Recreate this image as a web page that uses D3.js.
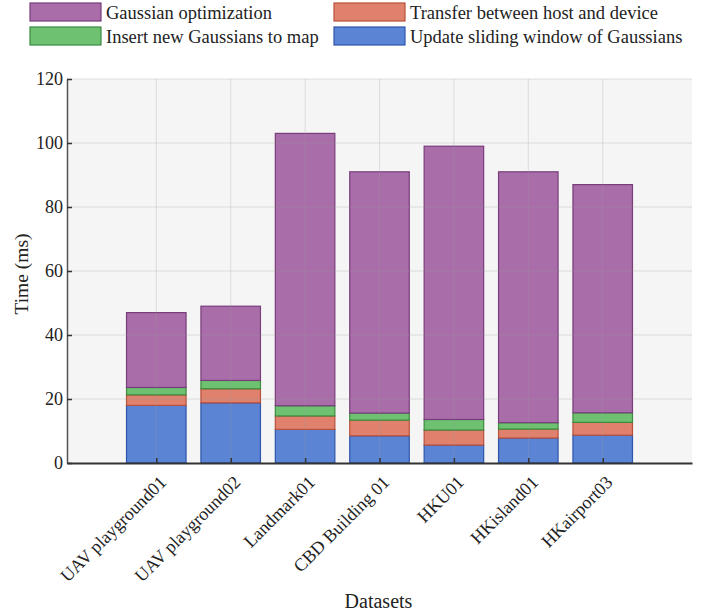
<!DOCTYPE html>
<html>
<head>
<meta charset="utf-8">
<script src="https://cdn.jsdelivr.net/npm/d3@7"></script>
<style>
  body { margin: 0; background: #fff; }
  svg text { font-family: "Liberation Serif", "DejaVu Serif", serif; fill: #222; }
</style>
</head>
<body>
<svg id="chart" width="710" height="616"></svg>
<script>
// データセット名
const datasets = ["UAV playground01", "UAV playground02", "Landmark01", "CBD Building 01", "HKU01", "HKisland01", "HKairport03"];

// 各処理の時間 (ms)
const updateWindow = [18.0, 18.8, 10.5, 8.5, 5.6, 7.8, 8.7];
const transfer = [3.3, 4.4, 4.2, 4.9, 4.7, 2.8, 4.0];
const insertNew = [2.3, 2.6, 3.2, 2.2, 3.3, 2.0, 3.0];
const optimization = [23.4, 23.2, 85.1, 75.4, 85.4, 78.4, 71.3];

const yTicks = [0, 20, 40, 60, 80, 100, 120];

// 系列の定義 (下から順に積む)
const series = [
  { key: "update", label: "Update sliding window of Gaussians", values: updateWindow, fill: "#5b84d5", stroke: "#2d55aa" },
  { key: "transfer", label: "Transfer between host and device", values: transfer, fill: "#e0816d", stroke: "#b9503b" },
  { key: "insert", label: "Insert new Gaussians to map", values: insertNew, fill: "#6dc170", stroke: "#3b8c3e" },
  { key: "opt", label: "Gaussian optimization", values: optimization, fill: "#a96daa", stroke: "#7a3d7c" }
];

const rows = datasets.map((name, i) => {
  const r = { name, i };
  series.forEach(s => { r[s.key] = s.values[i]; });
  return r;
});

const svg = d3.select("#chart");
const plotL = 67, plotR = 692, plotT = 79, plotB = 463;
const serif = '"Liberation Serif", "DejaVu Serif", serif';

// 位置スケール (matplotlib風のxlim)
const x = d3.scaleLinear().domain([-1.2, 7.2]).range([plotL, plotR]);
const y = d3.scaleLinear().domain([0, 120]).range([plotB, plotT]);
const barW = x(0.8) - x(0);

// 背景
svg.append("rect")
  .attr("x", plotL).attr("y", plotT)
  .attr("width", plotR - plotL).attr("height", plotB - plotT)
  .attr("fill", "#f5f5f5");

// 積み上げ
const stack = d3.stack().keys(series.map(s => s.key));
const stacked = stack(rows);

const barG = svg.append("g");
stacked.forEach((layer, li) => {
  const s = series[li];
  barG.append("g")
    .selectAll("rect")
    .data(layer)
    .enter()
    .append("rect")
    .attr("x", (d, i) => x(i) - barW / 2)
    .attr("y", d => y(d[1]))
    .attr("width", barW)
    .attr("height", d => y(d[0]) - y(d[1]))
    .attr("fill", s.fill)
    .attr("stroke", s.stroke)
    .attr("stroke-width", 1.2);
});

// グリッド (バーの上に薄く)
const grid = svg.append("g").attr("stroke", "#999").attr("stroke-opacity", 0.28).attr("stroke-width", 1);
grid.selectAll("line.h")
  .data(yTicks.filter(t => t > 0))
  .enter().append("line")
  .attr("x1", plotL).attr("x2", plotR)
  .attr("y1", d => y(d)).attr("y2", d => y(d));
grid.selectAll("line.v")
  .data(datasets.map((d, i) => i))
  .enter().append("line")
  .attr("x1", d => x(d)).attr("x2", d => x(d))
  .attr("y1", plotT).attr("y2", plotB);

// Y軸
const yAxis = d3.axisLeft(y).tickValues(yTicks).tickSizeInner(-5).tickSizeOuter(0);
const yg = svg.append("g").attr("transform", `translate(${plotL},0)`).call(yAxis)
  .attr("font-family", serif);
yg.select(".domain").attr("stroke", "#555").attr("stroke-width", 1.5);
yg.selectAll(".tick line").attr("stroke", "#333").attr("stroke-width", 1.5);
yg.selectAll(".tick text").style("font-size", "18px").attr("fill", "#222").attr("x", -4);

// X軸
const xAxis = d3.axisBottom(x).tickValues(datasets.map((d, i) => i))
  .tickFormat(i => datasets[i]).tickSizeInner(-5).tickSizeOuter(0);
const xg = svg.append("g").attr("transform", `translate(0,${plotB})`).call(xAxis)
  .attr("font-family", serif);
xg.select(".domain").attr("stroke", "#333").attr("stroke-width", 1.8);
xg.selectAll(".tick line").attr("stroke", "#333").attr("stroke-width", 1.5);
xg.selectAll(".tick text")
  .style("font-size", "18px")
  .attr("fill", "#222")
  .attr("text-anchor", "end")
  .attr("dy", "0.35em")
  .attr("transform", "translate(6,16) rotate(-45)")
  .attr("x", 0).attr("y", 0);

// 軸ラベル
svg.append("text")
  .attr("transform", `translate(28,${(plotT + plotB) / 2 + 3}) rotate(-90)`)
  .attr("text-anchor", "middle")
  .style("font-size", "19.5px")
  .text("Time (ms)");

svg.append("text")
  .attr("x", (plotL + plotR) / 2 - 1).attr("y", 608)
  .attr("text-anchor", "middle")
  .style("font-size", "20px")
  .text("Datasets");

// 凡例
const legendOrder = ["opt", "transfer", "insert", "update"];
const legend = svg.append("g");
legendOrder.forEach((k, j) => {
  const s = series.find(d => d.key === k);
  const lx = j % 2 === 0 ? 30 : 334;
  const ly = j < 2 ? 3 : 27;
  legend.append("rect")
    .attr("x", lx).attr("y", ly)
    .attr("width", 71).attr("height", 18)
    .attr("fill", s.fill).attr("stroke", s.stroke).attr("stroke-width", 1.2);
  legend.append("text")
    .attr("x", lx + 76).attr("y", ly + 15.5)
    .style("font-size", "18.5px")
    .text(s.label);
});
</script>
</body>
</html>
